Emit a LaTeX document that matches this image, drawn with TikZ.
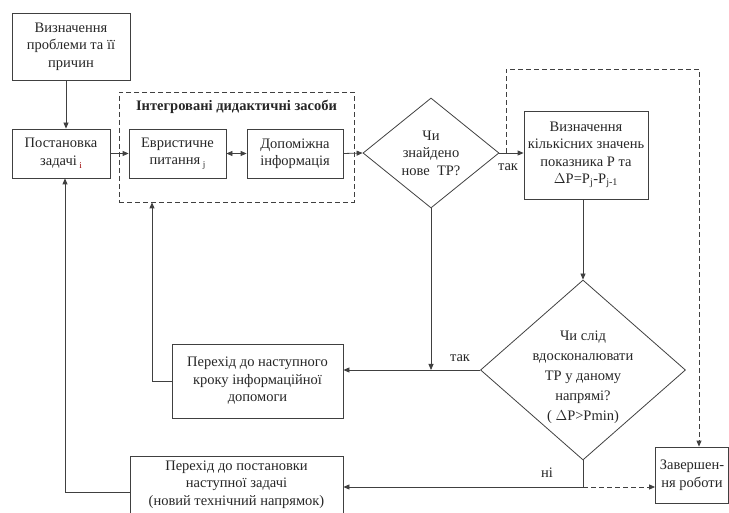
\documentclass[tikz,border=0pt]{standalone}
\usepackage{fontspec}
\setmainfont{Liberation Serif}
\usetikzlibrary{shapes.geometric,arrows.meta}
\begin{document}
\begin{tikzpicture}[x=1pt,y=-1pt,
  font=\fontsize{14.5}{17.5}\selectfont,
  box/.style={draw=black!75,line width=0.8pt,align=center,inner sep=1pt,text=black!85},
  dia/.style={draw=black!75,line width=0.8pt,shape=diamond,align=center,inner sep=0pt,text=black!85},
  arr/.style={draw=black!75,line width=0.8pt,-{Triangle[length=6pt,width=5pt]}},
  ln/.style={draw=black!75,line width=0.8pt},
  dsh/.style={draw=black!75,line width=0.8pt,dash pattern=on 5pt off 3pt},
  lbl/.style={inner sep=1pt,text=black!85}]
\useasboundingbox (0,0) rectangle (729,513);
\node[box,minimum width=118pt,minimum height=67pt] (b1) at (71,46.5) {Визначення\\проблеми та її\\причин};
\node[box,minimum width=98pt,minimum height=49pt] (b2) at (61,153.5) {Постановка\\задачі\,{\fontsize{9}{10}\selectfont\raisebox{-3pt}{\textcolor{red!60!black}{i}}}};
\node[dsh,minimum width=235pt,minimum height=110pt] (grp) at (236.5,147) {};
\node[lbl,font=\fontsize{14.5}{17.5}\selectfont\bfseries] (title) at (236.5,107) {Інтегровані дидактичні засоби};
\node[box,minimum width=97pt,minimum height=49pt] (b3) at (177.5,153.5) {Евристичне\\питання\,{\fontsize{9}{10}\selectfont\raisebox{-3pt}{j}}};
\node[box,minimum width=96pt,minimum height=49pt] (b4) at (295,153.5) {Допоміжна\\інформація};
\node[dia,minimum width=136pt,minimum height=110pt] (d1) at (431,153) {Чи\\знайдено\\нове\ \ ТР?};
\node[box,minimum width=124pt,minimum height=88pt] (b5) at (586,155) {Визначення\\кількісних значень\\показника Р та\\$\Delta$P=P\textsubscript{j}-P\textsubscript{j-1}};
\node[dia,aspect=1.14,minimum width=205pt,minimum height=180pt] (d2) at (583,370) {};
\node[lbl,align=center,font=\fontsize{14.5}{20}\selectfont] (d2t) at (583,377) {Чи слід\\вдосконалювати\\ТР у даному\\напрямі?\\( $\Delta$P>Pmin)};
\node[box,minimum width=171pt,minimum height=74pt] (b6) at (257.5,381) {Перехід до наступного\\кроку інформаційної\\допомоги};
\node[box,minimum width=213pt,minimum height=57pt] (b7) at (236.5,484.5) {Перехід до постановки\\наступної задачі\\(новий технічний напрямок)};
\node[box,minimum width=73pt,minimum height=56pt] (b8) at (692,475) {Завершен-\\ня роботи};
\coordinate (c1) at (66,0);
\coordinate (c2) at (506,69);
\coordinate (c3) at (699,69);
\coordinate (c4) at (152,0);
\coordinate (c5) at (65,0);
\coordinate (c6) at (583,487);
% connectors
\draw[arr] (c1 |- b1.south) -- (c1 |- b2.north);
\draw[arr] (b2.east) -- (b3.west);
\draw[ln,{Triangle[length=6pt,width=5pt]}-{Triangle[length=6pt,width=5pt]}] (b3.east) -- (b4.west);
\draw[arr] (b4.east) -- (d1.west);
\draw[arr] (d1.east) -- (d1.east -| b5.west);
\node[lbl] at (508,167) {так};
\draw[dsh,-{Triangle[length=6pt,width=5pt]}] (d1.east -| c2) -- (c2) -- (c3) -- (c3 |- b8.north);
\draw[arr] (b5.south -| d2.north) -- (d2.north);
\draw[arr] (d1.south) -- (d1.south |- d2.west);
\draw[arr] (d2.west) -- (d2.west -| b6.east);
\node[lbl] at (460,358) {так};
\draw[arr] (b6.west) -- (c4 |- b6.west) -- (c4 |- grp.south);
\draw[ln] (d2.south) -- (c6);
\draw[arr] (c6) -- (c6 -| b7.east);
\draw[dsh,-{Triangle[length=6pt,width=5pt]}] (c6) -- (c6 -| b8.west);
\node[lbl] at (547,473) {ні};
\draw[arr] (b7.west |- 0,492) -- (c5 |- 0,492) -- (c5 |- b2.south);
\end{tikzpicture}
\end{document}
